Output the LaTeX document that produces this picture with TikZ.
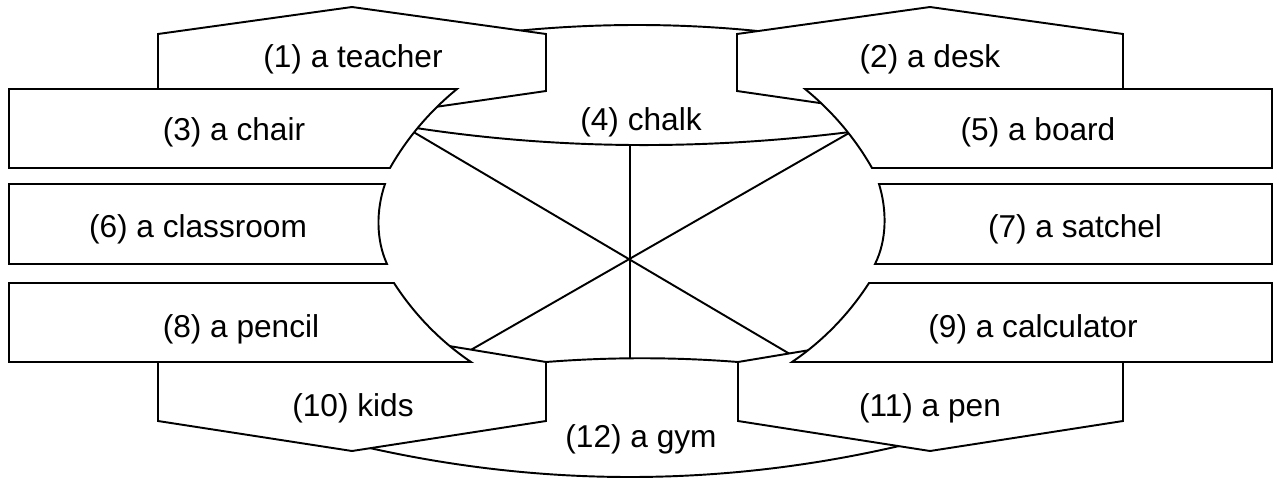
\documentclass[tikz,border=0pt]{standalone}
\usepackage{fontspec}
\setmainfont{Liberation Sans}

\begin{document}
\begin{tikzpicture}[
  x=0.02cm, y=-0.02cm,
  every node/.style={font=\fontsize{18}{21}\selectfont},
  tile/.style={draw=black, fill=white, line width=1.1pt},
  cut/.style={draw=black, line width=1.1pt}
]
  \useasboundingbox (0,0) rectangle (1282,477);

  \coordinate (xa) at (405,127);
  \coordinate (xb) at (800,360);
  \coordinate (ya) at (856,129);
  \coordinate (yb) at (462,355);
  \coordinate (vt) at (630,130);
  \coordinate (vb) at (630,370);
  \draw[cut] (xa) -- (xb);
  \draw[cut] (ya) -- (yb);
  \draw[cut] (vt) -- (vb);

  \path[tile] (480,35) .. controls (587,21.5) and (693,21.5) .. (800,36) -- (850,132)
    .. controls (705,150) and (561,150) .. (416,128) -- cycle;
  \path[tile] (546,362) .. controls (610,357) and (674,357) .. (738,362) -- (920,441)
    .. controls (727,489) and (533,489) .. (340,441) -- cycle;

  \path[tile] (158,34) -- (352,7) -- (546,34) -- (546,91) -- (352,119) -- (158,91) -- cycle;
  \path[tile] (737,34) -- (930,7) -- (1123,34) -- (1123,91) -- (930,119) -- (737,91) -- cycle;
  \path[tile] (9,89) -- (457,89) .. controls (430,111) and (407,138) .. (390,168) -- (9,168) -- cycle;
  \path[tile] (872,168) .. controls (855,138) and (832,111) .. (805,89) -- (1272,89) -- (1272,168) -- cycle;
  \path[tile] (9,184) -- (385,184) .. controls (376,210) and (376,240) .. (387,264) -- (9,264) -- cycle;
  \path[tile] (875,264) .. controls (887,240) and (887,210) .. (879,184) -- (1272,184) -- (1272,264) -- cycle;
  \path[tile] (158,362) -- (352,330) -- (546,362) -- (546,421) -- (352,451) -- (158,421) -- cycle;
  \path[tile] (738,362) -- (930,330) -- (1123,362) -- (1123,421) -- (930,451) -- (738,421) -- cycle;
  \path[tile] (9,283) -- (394,283) .. controls (414,314) and (440,341) .. (471,362) -- (9,362) -- cycle;
  \path[tile] (792,362) .. controls (823,341) and (849,314) .. (869,283) -- (1272,283) -- (1272,362) -- cycle;

  \node (teacher) at (353,59) {(1) a teacher};
  \node (desk) at (930,59) {(2) a desk};
  \node (chair) at (234,132) {(3) a chair};
  \node (chalk) at (641,122) {(4) chalk};
  \node (board) at (1038,132) {(5) a board};
  \node (classroom) at (198,229) {(6) a classroom};
  \node (satchel) at (1075,229) {(7) a satchel};
  \node (pencil) at (241,329) {(8) a pencil};
  \node (calculator) at (1033,329) {(9) a calculator};
  \node (kids) at (353,408) {(10) kids};
  \node (pen) at (930,408) {(11) a pen};
  \node (gym) at (641,439) {(12) a gym};
\end{tikzpicture}
\end{document}
